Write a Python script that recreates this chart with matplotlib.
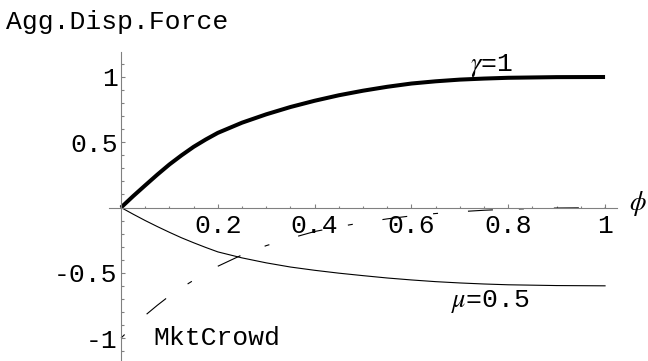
import numpy as np
import matplotlib
matplotlib.use("Agg")
import matplotlib.pyplot as plt

# curves sampled along phi
phi = [0, 0.025, 0.05, 0.075, 0.1, 0.125, 0.15, 0.175, 0.2, 0.25, 0.3, 0.35, 0.4,
       0.45, 0.5, 0.55, 0.6, 0.65, 0.7, 0.75, 0.8, 0.9, 1.0]
gamma_curve = [0, 0.087, 0.17, 0.252, 0.33, 0.40, 0.465, 0.521, 0.572, 0.65, 0.714, 0.77, 0.818,
               0.86, 0.895, 0.925, 0.95, 0.967, 0.98, 0.988, 0.994, 0.999, 1.0]
mu_curve = [0, -0.051, -0.10, -0.146, -0.19, -0.232, -0.27, -0.306, -0.34, -0.386, -0.424, -0.456, -0.481,
            -0.503, -0.522, -0.54, -0.555, -0.568, -0.578, -0.586, -0.592, -0.598, -0.60]
crowd_curve = [-1.0, -0.91, -0.826, -0.749, -0.677, -0.615, -0.557, -0.502, -0.45, -0.363, -0.292, -0.236, -0.184,
               -0.147, -0.115, -0.087, -0.064, -0.046, -0.032, -0.021, -0.013, -0.004, -0.001]

xticks = [0.2, 0.4, 0.6, 0.8, 1.0]
xtick_labels = ["0.2", "0.4", "0.6", "0.8", "1"]
yticks = [-1, -0.5, 0.5, 1]
ytick_labels = ["-1", "-0.5", "0.5", "1"]

mono = "Liberation Mono"
plt.rcParams["font.family"] = [mono, "DejaVu Sans"]
plt.rcParams["mathtext.fontset"] = "stix"
plt.rcParams["lines.scale_dashes"] = False
fs = 19

fig = plt.figure(figsize=(6.48, 3.61), dpi=100)
ax = fig.add_axes([0.1681, 0.0, 0.7843, 0.8554])
ax.set_xlim(-0.025, 1.025)
ax.set_ylim(-1.176, 1.19)

ax.plot(phi, gamma_curve, color="black", lw=2.9, solid_capstyle="butt", solid_joinstyle="round")
ax.plot(phi, mu_curve, color="black", lw=0.8)
crowd, = ax.plot(phi, crowd_curve, color="black", lw=0.8)
crowd.set_dashes((3.6, 21.6, 18, 18.7))

# axes through the origin
for s in ["top", "right"]:
    ax.spines[s].set_visible(False)
for s in ["left", "bottom"]:
    ax.spines[s].set_position(("data", 0))
    ax.spines[s].set_color("#808080")
    ax.spines[s].set_linewidth(0.8)

ax.set_xticks(xticks)
ax.set_xticklabels(xtick_labels)
ax.set_yticks(yticks)
ax.set_yticklabels(ytick_labels)
ax.set_xticks(np.arange(0.05, 1.001, 0.05), minor=True)
ax.set_yticks(np.arange(-1.1, 1.101, 0.1), minor=True)
ax.tick_params(axis="x", which="major", direction="in", length=2.6, width=0.8,
               color="#808080", pad=5, labelsize=fs)
ax.tick_params(axis="x", which="minor", direction="in", length=1.6, width=0.8, color="#808080")
ax.tick_params(axis="y", which="major", direction="in", length=3.2, width=0.8,
               color="#808080", pad=2.5, labelsize=fs)
ax.tick_params(axis="y", which="minor", direction="in", length=2.2, width=0.8, color="#808080")

ax.text(0.81, 1.048, r"$\gamma$=1", fontsize=fs, ha="right", va="baseline")
ax.text(0.843, -0.76, r"$\mu$=0.5", fontsize=fs, ha="right", va="baseline")
ax.text(0.066, -1.054, "MktCrowd", fontsize=fs, ha="left", va="baseline")
ax.text(1.05, 0.03, r"$\phi$", fontsize=fs, ha="left", va="center", clip_on=False)
fig.text(6 / 648, 1 - 29 / 361, "Agg.Disp.Force", fontsize=fs, ha="left", va="baseline")

fig.savefig("out.png", dpi=100)
